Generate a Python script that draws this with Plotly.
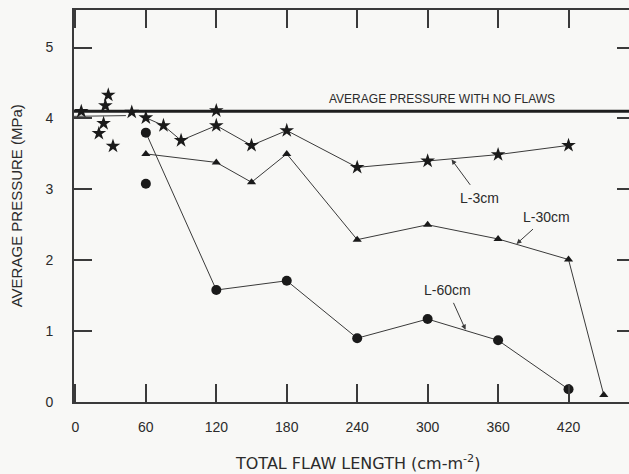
import plotly.graph_objects as go

# Total flaw length (cm per m^2) and average pressure (MPa) for each flaw size
x_3cm = [60, 75, 90, 120, 150, 180, 240, 300, 360, 420]
p_3cm = [4.01, 3.90, 3.69, 3.90, 3.62, 3.83, 3.31, 3.40, 3.49, 3.62]

x_30cm = [60, 120, 150, 180, 240, 300, 360, 420, 450]
p_30cm = [3.50, 3.38, 3.10, 3.50, 2.29, 2.50, 2.30, 2.01, 0.10]

x_60cm = [60, 120, 180, 240, 300, 360, 420]
p_60cm = [3.80, 1.58, 1.71, 0.90, 1.17, 0.87, 0.18]

# Unconnected measurements
x_free_star = [5, 20, 24, 25.5, 28, 32, 48, 120]
p_free_star = [4.10, 3.79, 3.93, 4.18, 4.33, 3.61, 4.09, 4.11]
x_free_dot = [60]
p_free_dot = [3.08]

# Reference level with no flaws
no_flaw_pressure = 4.10
x_low_ref = [-1.2, 43]
p_low_ref = [4.03, 4.04]

x_ticks = [0, 60, 120, 180, 240, 300, 360, 420]
y_ticks = [0, 1, 2, 3, 4, 5]

X_RANGE = [-1.2, 471.5]
Y_RANGE = [0, 5.53]

INK = "#2b2b2b"
LINE = "#3a3a3a"
FONT = "Liberation Sans, Arial, sans-serif"

fig = go.Figure()

# no-flaw reference line across the whole plot
fig.add_trace(go.Scatter(
    x=X_RANGE, y=[no_flaw_pressure, no_flaw_pressure], mode="lines",
    line=dict(color="#1e1e1e", width=3), hoverinfo="skip", showlegend=False))
fig.add_trace(go.Scatter(
    x=x_low_ref, y=p_low_ref, mode="lines",
    line=dict(color=LINE, width=1), hoverinfo="skip", showlegend=False))

fig.add_trace(go.Scatter(
    x=x_3cm, y=p_3cm, mode="lines+markers", name="L-3cm",
    line=dict(color=LINE, width=1),
    marker=dict(symbol="star", size=11, color="#1a1a1a"), showlegend=False))
fig.add_trace(go.Scatter(
    x=x_30cm, y=p_30cm, mode="lines+markers", name="L-30cm",
    line=dict(color=LINE, width=1),
    marker=dict(symbol="triangle-up", size=8, color="#1a1a1a"), showlegend=False))
fig.add_trace(go.Scatter(
    x=x_60cm, y=p_60cm, mode="lines+markers", name="L-60cm",
    line=dict(color=LINE, width=1),
    marker=dict(symbol="circle", size=10, color="#1a1a1a"), showlegend=False))
fig.add_trace(go.Scatter(
    x=x_free_star, y=p_free_star, mode="markers",
    marker=dict(symbol="star", size=11, color="#1a1a1a"), showlegend=False))
fig.add_trace(go.Scatter(
    x=x_free_dot, y=p_free_dot, mode="markers",
    marker=dict(symbol="circle", size=10, color="#1a1a1a"), showlegend=False))

# carrier for the right-hand tick axis
fig.add_trace(go.Scatter(x=[None], y=[None], yaxis="y2", showlegend=False, hoverinfo="skip"))

label_font = dict(size=14, color=INK, family=FONT)
arrow_style = dict(showarrow=True, arrowhead=2, arrowsize=1, arrowwidth=1,
                   arrowcolor=LINE, startstandoff=4, font=label_font)

annotations = [
    dict(x=311.8, y=4.27, text="AVERAGE PRESSURE WITH NO FLAWS", showarrow=False,
         font=dict(size=12, color=INK, family=FONT)),
    # curve labels, each with a pointer to its curve
    dict(x=320.4, y=3.42, text="L-3cm", ax=28, ay=38, **arrow_style),
    dict(x=375.7, y=2.23, text="L-30cm", ax=30, ay=-27, **arrow_style),
    dict(x=332.3, y=1.02, text="L-60cm", ax=-18, ay=-40, **arrow_style),
    # axis titles
    dict(xref="paper", yref="paper", x=-0.104, y=0.50, xanchor="center", yanchor="middle",
         text="AVERAGE PRESSURE (MPa)", textangle=-90, showarrow=False,
         font=dict(size=15, color=INK, family=FONT)),
    dict(xref="paper", yref="paper", x=0.51, y=-0.155, xanchor="center", yanchor="middle",
         text="TOTAL FLAW LENGTH (cm-m<sup>-2</sup>)", showarrow=False,
         font=dict(size=16, color=INK, family="DejaVu Sans, sans-serif")),
]

fig.update_layout(
    width=629, height=474,
    margin=dict(l=74, r=0, t=10, b=72),
    paper_bgcolor="#f8f8f6", plot_bgcolor="#f8f8f6",
    showlegend=False,
    annotations=annotations,
    xaxis=dict(
        range=X_RANGE, tickvals=x_ticks, ticktext=[str(v) for v in x_ticks],
        ticks="inside", ticklen=18, tickwidth=2, tickcolor=LINE,
        showline=True, linewidth=2, linecolor=LINE, mirror="ticks",
        showgrid=False, zeroline=False, ticklabelstandoff=11,
        tickfont=dict(size=14, color=INK, family=FONT)),
    yaxis=dict(
        range=Y_RANGE, tickvals=y_ticks, ticktext=[str(v) for v in y_ticks],
        ticks="inside", ticklen=18, tickwidth=2, tickcolor=LINE,
        showline=True, linewidth=2, linecolor=LINE,
        showgrid=False, zeroline=False, ticklabelstandoff=16,
        tickfont=dict(size=14, color=INK, family=FONT)),
    yaxis2=dict(
        range=Y_RANGE, overlaying="y", side="right", tickvals=y_ticks[1:],
        ticks="inside", ticklen=12, tickwidth=2, tickcolor=LINE,
        showticklabels=False, showline=False, showgrid=False, zeroline=False),
)

fig.write_html("out.html")
